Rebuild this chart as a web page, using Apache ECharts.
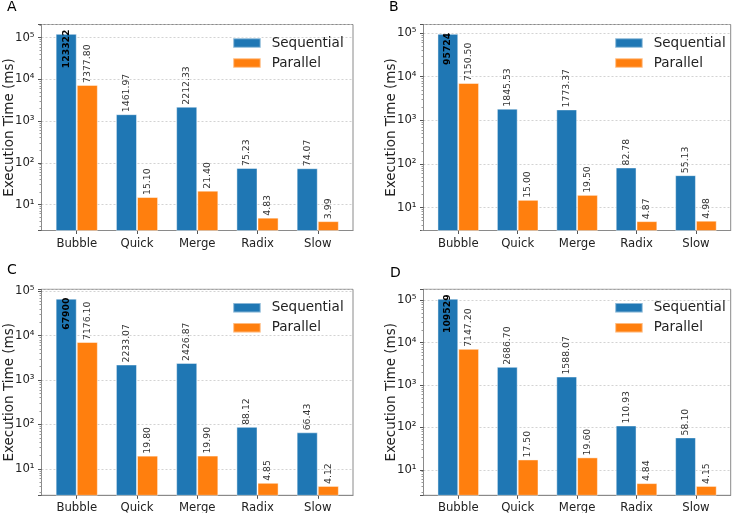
<!DOCTYPE html>
<html>
<head>
<meta charset="utf-8">
<script src="https://cdn.jsdelivr.net/npm/echarts@6.0.0/dist/echarts.min.js"></script>
<style>
  html, body { margin: 0; background: #fff; }
  #chart { width: 738px; height: 513px; }
</style>
</head>
<body>
<div id="chart"></div>
<script>
// sort algorithms on the x axis
const categories = ['Bubble', 'Quick', 'Merge', 'Radix', 'Slow'];
const panelNames = ['A', 'B', 'C', 'D'];

// execution times in ms, one pair of arrays per panel
const seqA = [123322, 1461.97, 2212.33, 75.23, 74.07];
const parA = [7377.80, 15.10, 21.40, 4.83, 3.99];
const seqB = [95724, 1845.53, 1773.37, 82.78, 55.13];
const parB = [7150.50, 15.00, 19.50, 4.87, 4.98];
const seqC = [67900, 2233.07, 2426.87, 88.12, 66.43];
const parC = [7176.10, 19.80, 19.90, 4.85, 4.12];
const seqD = [109529, 2686.70, 1588.07, 110.93, 58.10];
const parD = [7147.20, 17.50, 19.60, 4.84, 4.15];

const sequential = [seqA, seqB, seqC, seqD];
const parallel = [parA, parB, parC, parD];

const FONT = 'DejaVu Sans';
const BLUE = '#1f77b4';
const ORANGE = '#ff7f0e';
const FRAME = '#8a8a8a';
const BAR = 0.35; // bar width in category units

// plot boxes (left, top, width, height) for the 2x2 layout
const boxes = [
  [41.5, 24.5, 311.5, 206],
  [423.5, 24.5, 307.2, 206],
  [41.5, 289.3, 311.5, 206],
  [423.5, 289.3, 307.2, 206]
];
const letterPos = [[7, 0], [389, 0], [7, 263.5], [390, 266]];

const supDigits = { '0': '⁰', '1': '¹', '2': '²', '3': '³', '4': '⁴', '5': '⁵', '6': '⁶', '7': '⁷', '8': '⁸', '9': '⁹', '-': '⁻' };
function pow10Label (v) {
  const e = Math.log10(v);
  const r = Math.round(e);
  if (Math.abs(e - r) > 1e-6) return '';
  return '10' + String(r).split('').map(c => supDigits[c]).join('');
}

// matplotlib-like 5% margins
const span = categories.length - 1 + 2 * BAR;
const xMin = -BAR - 0.05 * span;
const xMax = categories.length - 1 + BAR + 0.05 * span;
const tickIdx = categories.map((c, i) => i);

const aboveLabel = {
  show: true,
  position: 'top',
  distance: 2,
  rotate: 90,
  align: 'left',
  verticalAlign: 'middle',
  fontFamily: FONT,
  fontSize: 9.3,
  color: '#333',
  formatter: p => p.value[1].toFixed(2)
};
const insideLabel = {
  show: true,
  position: 'insideTop',
  distance: 15,
  rotate: 90,
  align: 'center',
  verticalAlign: 'middle',
  fontFamily: FONT,
  fontSize: 9.3,
  fontWeight: 'bold',
  color: '#000',
  formatter: p => String(Math.round(p.value[1]))
};

function barData (values) {
  return values.map((v, i) => {
    const item = { value: [i, v] };
    if (v >= 10000) item.label = insideLabel;
    return item;
  });
}

const grid = [], xAxis = [], yAxis = [], series = [], legend = [], title = [];

boxes.forEach((b, k) => {
  const all = sequential[k].concat(parallel[k]);
  const lo = Math.log10(Math.min(...all));
  const hi = Math.log10(Math.max(...all));
  const m = 0.05 * (hi - lo);

  grid.push({
    left: b[0], top: b[1], width: b[2], height: b[3],
    show: true, borderColor: FRAME, borderWidth: 1, backgroundColor: 'transparent',
    outerBoundsMode: 'none'
  });

  xAxis.push({
    type: 'value',
    gridIndex: k,
    min: xMin,
    max: xMax,
    axisLine: { show: true, onZero: false, lineStyle: { color: FRAME } },
    axisTick: { show: true, length: 3.5, customValues: tickIdx, lineStyle: { color: '#555' } },
    axisLabel: {
      customValues: tickIdx,
      formatter: v => categories[Math.round(v)],
      margin: 7,
      fontFamily: FONT,
      fontSize: 11.7,
      color: '#222'
    },
    splitLine: { show: false }
  });

  yAxis.push({
    type: 'log',
    logBase: 10,
    gridIndex: k,
    min: Math.pow(10, lo - m),
    max: Math.pow(10, hi + m),
    name: 'Execution Time (ms)',
    nameLocation: 'middle',
    nameGap: 25,
    nameMoveOverlap: false,
    nameTextStyle: { fontFamily: FONT, fontSize: 13.5, color: '#222' },
    axisLine: { show: true, onZero: false, lineStyle: { color: FRAME } },
    axisTick: { show: true, length: 3.5, lineStyle: { color: '#555' } },
    minorTick: { show: true, splitNumber: 9, length: 2, lineStyle: { color: '#999' } },
    axisLabel: {
      formatter: pow10Label,
      showMinLabel: false,
      showMaxLabel: false,
      margin: 7,
      fontFamily: FONT,
      fontSize: 11.7,
      color: '#222'
    },
    splitLine: { show: true, lineStyle: { color: '#c8c8c8', width: 0.8, type: [2, 2] } }
  });

  series.push({
    name: 'Sequential',
    type: 'bar',
    xAxisIndex: k,
    yAxisIndex: k,
    barWidth: (BAR * 100) + '%',
    barGap: '0%',
    itemStyle: { color: BLUE, borderColor: 'rgba(255,255,255,0.45)', borderWidth: 1 },
    label: aboveLabel,
    data: barData(sequential[k])
  });
  series.push({
    name: 'Parallel',
    type: 'bar',
    xAxisIndex: k,
    yAxisIndex: k,
    barWidth: (BAR * 100) + '%',
    barGap: '0%',
    itemStyle: { color: ORANGE, borderColor: 'rgba(255,255,255,0.45)', borderWidth: 1 },
    label: aboveLabel,
    data: barData(parallel[k])
  });

  legend.push({
    data: ['Sequential', 'Parallel'],
    orient: 'vertical',
    left: b[0] + 190.7,
    top: b[1] + 10.5,
    padding: 0,
    itemWidth: 27.5,
    itemHeight: 9.5,
    itemGap: 4,
    icon: 'rect',
    selectedMode: false,
    textStyle: { fontFamily: FONT, fontSize: 13.5, color: '#222', lineHeight: 16, padding: [0, 0, 0, 6] }
  });

  title.push({
    text: panelNames[k],
    left: letterPos[k][0],
    top: letterPos[k][1],
    padding: 0,
    textStyle: { fontFamily: FONT, fontSize: 14, fontWeight: 'normal', color: '#000' }
  });
});

const chart = echarts.init(document.getElementById('chart'), null, { renderer: 'canvas' });
chart.setOption({
  animation: false,
  backgroundColor: '#fff',
  title,
  legend,
  grid,
  xAxis,
  yAxis,
  series
});
</script>
</body>
</html>
